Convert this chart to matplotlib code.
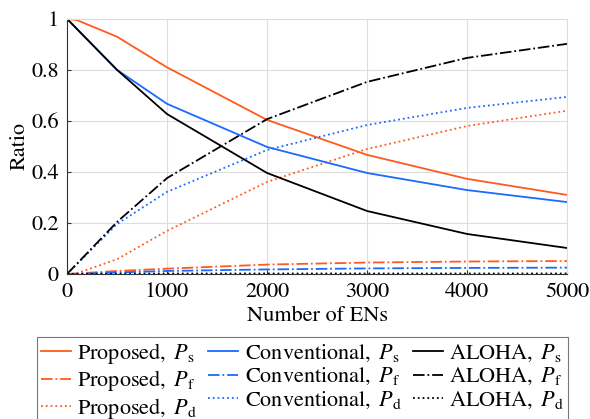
import matplotlib
matplotlib.use('Agg')
import matplotlib.pyplot as plt

plt.rcParams['font.family'] = ['STIXGeneral', 'Liberation Serif', 'DejaVu Serif']
plt.rcParams['mathtext.fontset'] = 'stix'

# number of ENs
x = [0, 500, 1000, 2000, 3000, 4000, 5000]
x_prop = [0, 100, 500, 1000, 2000, 3000, 4000, 5000]

prop_ps = [1.0, 0.995, 0.93, 0.81, 0.604, 0.467, 0.373, 0.31]
prop_pf = [0.0, 0.002, 0.012, 0.021, 0.037, 0.045, 0.049, 0.051]
prop_pd = [0.0, 0.003, 0.058, 0.169, 0.361, 0.49, 0.58, 0.64]

conv_ps = [1.0, 0.80, 0.667, 0.498, 0.396, 0.329, 0.282]
conv_pf = [0.0, 0.006, 0.012, 0.018, 0.022, 0.024, 0.025]
conv_pd = [0.0, 0.196, 0.322, 0.486, 0.584, 0.651, 0.694]

aloha_ps = [1.0, 0.80, 0.627, 0.396, 0.247, 0.157, 0.102]
aloha_pf = [0.0, 0.204, 0.376, 0.607, 0.753, 0.847, 0.902]
aloha_pd = [0.0, 0.001, 0.002, 0.002, 0.002, 0.002, 0.002]

orange = '#ff5a1e'
blue = '#1a6aff'
black = '#000000'

fig = plt.figure(figsize=(5.9, 4.19), dpi=100)
ax = fig.add_axes([0.1136, 0.346, 0.8475, 0.609])

lw = 1.3
series = [
    (x_prop, prop_ps, orange, '-', r'Proposed, $\,P_{\mathrm{s}}$'),
    (x_prop, prop_pf, orange, '-.', r'Proposed, $\,P_{\mathrm{f}}$'),
    (x_prop, prop_pd, orange, ':', r'Proposed, $\,P_{\mathrm{d}}$'),
    (x, conv_ps, blue, '-', r'Conventional, $\,P_{\mathrm{s}}$'),
    (x, conv_pf, blue, '-.', r'Conventional, $\,P_{\mathrm{f}}$'),
    (x, conv_pd, blue, ':', r'Conventional, $\,P_{\mathrm{d}}$'),
    (x, aloha_ps, black, '-', r'ALOHA, $\,P_{\mathrm{s}}$'),
    (x, aloha_pf, black, '-.', r'ALOHA, $\,P_{\mathrm{f}}$'),
    (x, aloha_pd, black, ':', r'ALOHA, $\,P_{\mathrm{d}}$'),
]
for xs, ys, c, ls, lab in series:
    ax.plot(xs, ys, color=c, linestyle=ls, linewidth=lw, label=lab)

ax.set_xlim(0, 5000)
ax.set_ylim(0, 1)
ax.set_xticks([0, 1000, 2000, 3000, 4000, 5000])
ax.set_yticks([0, 0.2, 0.4, 0.6, 0.8, 1])
ax.set_yticklabels(['0', '0.2', '0.4', '0.6', '0.8', '1'])
ax.grid(True, color='#dddddd', linewidth=0.8)
ax.set_axisbelow(True)
ax.tick_params(direction='in', length=3, labelsize=16, color='#333333', pad=6)
for side in ['left', 'bottom']:
    ax.spines[side].set_color('#333333')
for side in ['top', 'right']:
    ax.spines[side].set_color('#dddddd')
ax.set_xlabel('Number of ENs', fontsize=16, labelpad=3)
ax.set_ylabel('Ratio', fontsize=16, labelpad=1)

leg = fig.legend(loc='upper left', bbox_to_anchor=(0.063, 0.195), ncol=3,
                 fontsize=16, frameon=True, fancybox=False, edgecolor='#555555',
                 handlelength=1.35, handletextpad=0.3, columnspacing=0.5,
                 labelspacing=0.12, borderpad=0.15, borderaxespad=0)
leg.get_frame().set_linewidth(0.8)

fig.savefig('out.png', dpi=100)
